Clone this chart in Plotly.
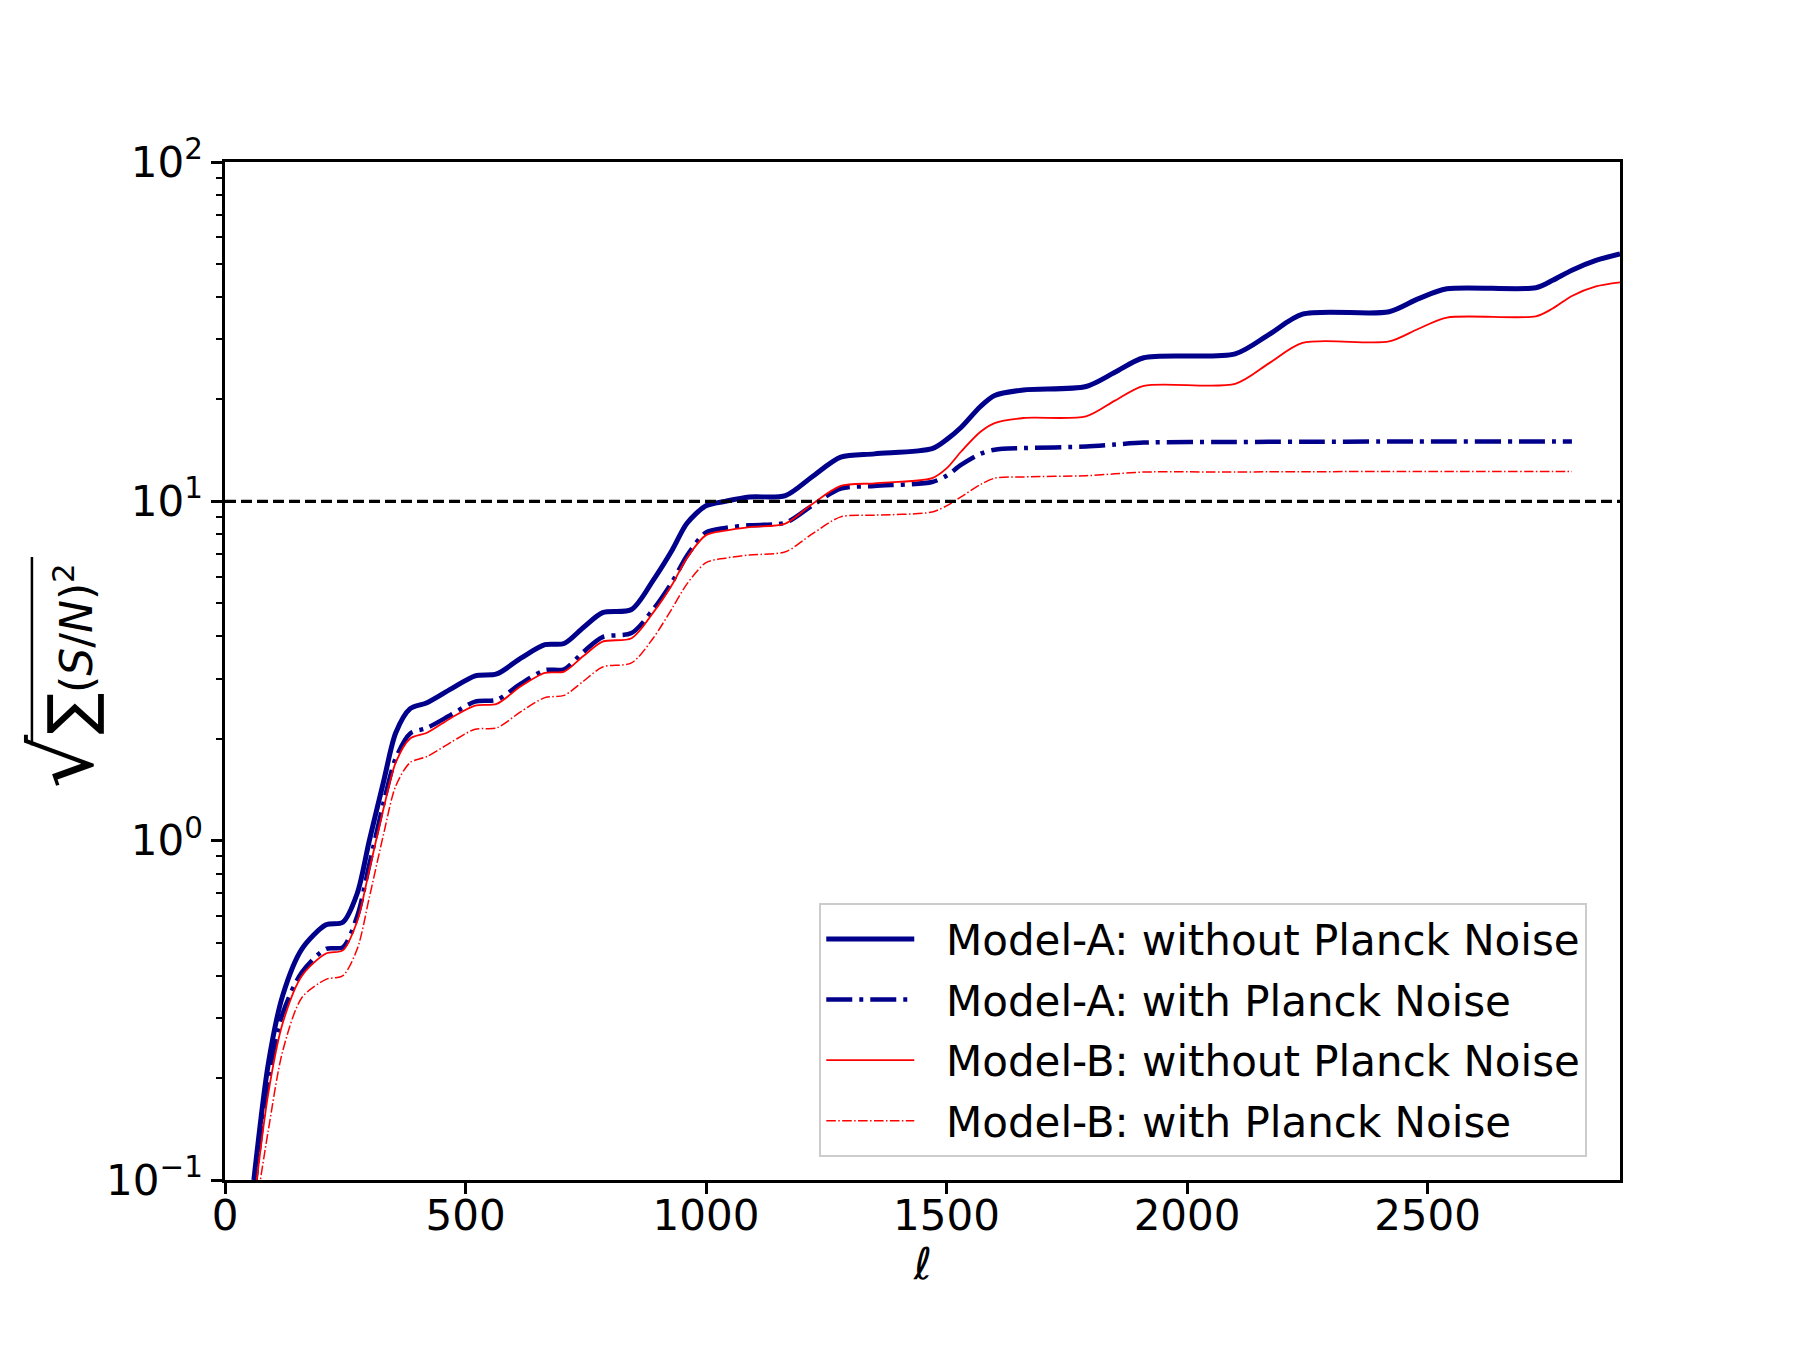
import plotly.graph_objects as go

# multipole grid (shared by all curves)
ell = [60, 90, 120, 160, 210, 245, 275, 300, 330, 355, 385, 420, 470, 520, 565, 615,
       665, 705, 745, 785, 845, 890, 930, 960, 1000, 1040, 1090, 1165, 1220, 1280,
       1350, 1470, 1500, 1530, 1570, 1600, 1660, 1790, 1850, 1910, 2100, 2170, 2240,
       2420, 2480, 2540, 2725, 2760, 2800, 2850, 2900]

modelA_no_noise = [0.10, 0.22, 0.35, 0.48, 0.565, 0.575, 0.70, 1.0, 1.5, 2.08, 2.45, 2.55,
                   2.8, 3.06, 3.1, 3.45, 3.78, 3.81, 4.25, 4.7, 4.8, 5.85, 7.2, 8.6, 9.7,
                   10.0, 10.3, 10.4, 11.8, 13.5, 13.8, 14.3, 15.2, 16.5, 19.0, 20.5, 21.3,
                   21.8, 24.0, 26.5, 27.2, 31.0, 35.6, 36.2, 39.5, 42.3, 42.6, 44.8, 48.0,
                   51.3, 53.6]

modelA_planck = [0.09, 0.20, 0.31, 0.41, 0.48, 0.485, 0.60, 0.85, 1.3, 1.75, 2.07, 2.15,
                 2.35, 2.57, 2.6, 2.9, 3.18, 3.2, 3.6, 3.98, 4.09, 4.8, 5.8, 6.9, 8.1,
                 8.35, 8.5, 8.65, 9.7, 10.9, 11.1, 11.4, 11.9, 12.8, 13.8, 14.2, 14.35,
                 14.5, 14.7, 14.9, 14.95, 14.97, 14.98, 15.0, 15.0, 15.0, 15.0, 15.0, 15.0]

modelB_no_noise = [0.085, 0.18, 0.29, 0.40, 0.465, 0.475, 0.58, 0.82, 1.25, 1.7, 2.0, 2.08,
                   2.3, 2.5, 2.53, 2.85, 3.12, 3.15, 3.5, 3.86, 3.95, 4.7, 5.7, 6.8, 7.95,
                   8.2, 8.4, 8.6, 9.8, 11.1, 11.3, 11.7, 12.5, 14.0, 16.0, 17.0, 17.6,
                   17.8, 19.8, 21.9, 22.2, 25.5, 29.3, 29.6, 32.2, 34.8, 35.1, 37.0, 40.3,
                   43.0, 44.2]

modelB_planck = [0.075, 0.14, 0.24, 0.345, 0.39, 0.40, 0.48, 0.68, 1.05, 1.45, 1.70, 1.77,
                 1.95, 2.13, 2.15, 2.4, 2.64, 2.68, 2.95, 3.25, 3.34, 3.95, 4.85, 5.7, 6.6,
                 6.8, 6.95, 7.1, 8.0, 9.0, 9.1, 9.3, 9.7, 10.3, 11.2, 11.7, 11.8,
                 11.9, 12.05, 12.2, 12.2, 12.22, 12.23, 12.24, 12.25, 12.25, 12.25, 12.25,
                 12.25]

series_names = ["Model-A: without Planck Noise", "Model-A: with Planck Noise",
                "Model-B: without Planck Noise", "Model-B: with Planck Noise"]

threshold = 10
x_ticks = [0, 500, 1000, 1500, 2000, 2500]
y_ticks = [0.1, 1, 10, 100]
y_tick_text = ["10<sup>\u22121</sup>", "10<sup>0</sup>", "10<sup>1</sup>", "10<sup>2</sup>"]
y_minor = [m * d for d in [0.1, 1, 10] for m in range(2, 10)]

NAVY = "#00008B"
RED = "#FF0000"
FONT = "DejaVu Sans"
FS = 42
PAD = "\u00a0\u00a0"

fig = go.Figure()
fig.add_trace(go.Scatter(
    x=ell, y=modelA_no_noise, mode="lines", name=PAD + series_names[0],
    line=dict(color=NAVY, width=5, shape="spline", smoothing=0.8),
    legendgroup="a"))
fig.add_trace(go.Scatter(
    x=ell[:len(modelA_planck)], y=modelA_planck, mode="lines", name=PAD + series_names[1],
    line=dict(color=NAVY, width=4.5, dash="26px,7px,4px,7px", shape="spline", smoothing=0.8),
    legendgroup="b"))
fig.add_trace(go.Scatter(
    x=ell, y=modelB_no_noise, mode="lines", name=PAD + series_names[2],
    line=dict(color=RED, width=1.8, shape="spline", smoothing=0.8),
    legendgroup="c"))
fig.add_trace(go.Scatter(
    x=ell[:len(modelB_planck)], y=modelB_planck, mode="lines", name=PAD + series_names[3],
    line=dict(color=RED, width=1.5, dash="9.6px,2.4px,1.5px,2.4px", shape="spline", smoothing=0.8),
    legendgroup="d"))

fig.add_hline(y=threshold, line=dict(color="black", width=3.2, dash="11px,5px"))

fig.update_layout(
    width=1800, height=1350,
    margin=dict(l=225, r=180, t=162, b=170),
    paper_bgcolor="white", plot_bgcolor="white",
    font=dict(family=FONT, size=FS, color="black"),
    showlegend=True,
    legend=dict(
        x=0.426, y=0.272, xanchor="left", yanchor="top",
        bgcolor="rgba(255,255,255,0.8)", bordercolor="#cccccc", borderwidth=2,
        font=dict(family=FONT, size=FS, color="black"),
        tracegroupgap=3, itemwidth=88,
    ),
    xaxis=dict(
        range=[0, 2900], tickmode="array", tickvals=x_ticks,
        showline=True, mirror=True, linecolor="black", linewidth=2.5,
        ticks="outside", ticklen=11, tickwidth=2.5, tickcolor="black",
        showgrid=False, zeroline=False, ticklabelstandoff=-14,
        tickfont=dict(family=FONT, size=FS, color="black"),
    ),
    yaxis=dict(
        type="log", range=[-1, 2], tickmode="array", tickvals=y_ticks, ticktext=y_tick_text,
        showline=True, mirror=True, linecolor="black", linewidth=2.5,
        ticks="outside", ticklen=11, tickwidth=2.5, tickcolor="black",
        showgrid=False, zeroline=False,
        tickfont=dict(family=FONT, size=FS, color="black"),
        minor=dict(tickmode="array", tickvals=y_minor, ticks="outside", ticklen=6,
                   tickwidth=1.8, tickcolor="black", showgrid=False),
    ),
)

# y-axis label: sqrt( sum (S/N)^2 )
fig.add_annotation(
    text='<span style="font-size:84px">\u221a</span>'
         '<span style="font-size:62px">\u2211</span>(<i>S</i>/<i>N</i>)<sup>2</sup>',
    xref="paper", yref="paper", x=-0.116, y=0.495, xanchor="center", yanchor="middle",
    textangle=-90, showarrow=False, font=dict(family=FONT, size=44, color="black"))
# vinculum of the radical
fig.add_shape(type="line", xref="paper", yref="paper",
              x0=-0.1384, x1=-0.1384, y0=0.427, y1=0.612,
              line=dict(color="black", width=2.5))

fig.add_annotation(
    text="<i>\u2113</i>", xref="paper", yref="paper", x=0.5, y=-0.082,
    xanchor="center", yanchor="middle", showarrow=False,
    font=dict(family=FONT, size=44, color="black"))

fig.write_html("out.html")
